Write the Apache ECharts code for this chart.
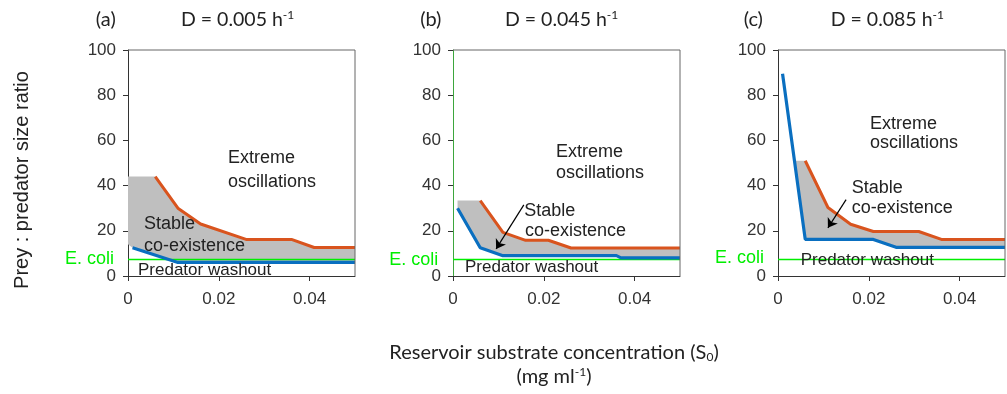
<!DOCTYPE html>
<html>
<head>
<meta charset="utf-8">
<script src="https://cdn.jsdelivr.net/npm/echarts@6/dist/echarts.min.js"></script>
<style>html,body{margin:0;padding:0;background:#fff}#c{width:1007px;height:394px}</style>
</head>
<body>
<div id="c"></div>
<script>
// ---- data ----
const panelLabels = ['(a)', '(b)', '(c)'];
const dilutionRates = ['0.005', '0.045', '0.085'];
const xMin = 0, xMax = 0.05, xStep = 0.02;
const yMin = 0, yMax = 100, yStep = 20;
const xTickValues = [0.02, 0.04];
const yTickValues = [20, 40, 60, 80];
const ecoliRatio = 7.3;

// blue: predator washout boundary
const blueA = [[0.001, 12.5], [0.011, 6], [0.05, 6]];
const blueB = [[0.001, 30], [0.006, 12.5], [0.011, 9], [0.036, 9], [0.037, 8], [0.05, 8]];
const blueC = [[0.001, 89.5], [0.006, 16.2], [0.021, 16.2], [0.026, 12.7], [0.05, 12.7]];

// orange: extreme oscillation boundary
const orangeA = [[0.006, 44], [0.011, 30], [0.016, 23], [0.026, 16.2], [0.036, 16.2], [0.041, 12.6], [0.05, 12.6]];
const orangeB = [[0.006, 33.4], [0.011, 19.3], [0.016, 15.8], [0.021, 15.8], [0.026, 12.4], [0.05, 12.4]];
const orangeC = [[0.006, 51], [0.011, 30.3], [0.016, 22.9], [0.021, 19.7], [0.031, 19.7], [0.036, 16.2], [0.05, 16.2]];

// grey stable co-existence region (upper edge, lower edge)
const greyTopA = [[0, 44], [0.006, 44]].concat(orangeA);
const greyBottomA = [[0, 14], [0.001, 12.5], [0.011, 6], [0.05, 6]];
const greyTopB = [[0.001, 33.4], [0.006, 33.4]].concat(orangeB);
const greyBottomB = blueB;
const greyTopC = [[0.0036, 51], [0.006, 51]].concat(orangeC);
const greyBottomC = [[0.0036, 51], [0.006, 16.2], [0.021, 16.2], [0.026, 12.7], [0.05, 12.7]];

// arrows (from, to) pointing into the stable region
const arrowB = [[0.0156, 31.5], [0.0095, 12]];
const arrowC = [[0.015, 33.8], [0.011, 21.3]];

// ---- layout ----
const blues = [blueA, blueB, blueC];
const oranges = [orangeA, orangeB, orangeC];
const greyTops = [greyTopA, greyTopB, greyTopC];
const greyBottoms = [greyBottomA, greyBottomB, greyBottomC];
const arrows = [null, arrowB, arrowC];
const gridLefts = [128, 453, 778];
const GW = 227, GT = 50, GH = 226;
const TICK_DX = 0.0011, TICK_DY = 2.2; // 5 px tick length in data units

const TXT = '#222';
const SANS = '"Liberation Sans", Arial, sans-serif';
const CAL = 'Lato, "Open Sans", sans-serif';
const FRAME = '#666666';

const grids = [], xAxes = [], yAxes = [], series = [];
for (let i = 0; i < 3; i++) {
  grids.push({ left: gridLefts[i], top: GT, width: GW, height: GH });
  xAxes.push({
    type: 'value', gridIndex: i, min: xMin, max: xMax, interval: xStep, position: 'bottom',
    axisLine: { show: true, onZero: false, lineStyle: { color: '#333', width: 1 } },
    axisTick: { show: true, length: 5, lineStyle: { color: '#333' } },
    axisLabel: { fontSize: 17, color: '#333', fontFamily: SANS, margin: 15, showMaxLabel: false,
      formatter: v => v === 0 ? '0' : v.toFixed(2) },
    splitLine: { show: false }
  });
  yAxes.push({
    type: 'value', gridIndex: i, min: yMin, max: yMax, interval: yStep, position: 'left',
    axisLine: { show: true, onZero: false, lineStyle: { color: i === 1 ? '#3da63d' : '#333', width: 1 } },
    axisTick: { show: true, length: 5, lineStyle: { color: '#333' } },
    axisLabel: { fontSize: 17, color: '#333', fontFamily: SANS, margin: 12 },
    splitLine: { show: false }
  });
  const bx = i, by = i;

  // box frame: top and right edges, with outward ticks
  const tickSegs = xTickValues.map(v => [{ coord: [v, yMax] }, { coord: [v, yMax + TICK_DY] }])
    .concat(yTickValues.map(v => [{ coord: [xMax, v] }, { coord: [xMax + TICK_DX, v] }]));
  series.push({
    type: 'line', xAxisIndex: bx, yAxisIndex: by, clip: false, silent: true, z: 6,
    data: [[xMin, yMax], [xMax, yMax], [xMax, yMin]],
    showSymbol: false, symbol: 'none',
    lineStyle: { color: FRAME, width: 1 },
    markLine: { silent: true, symbol: 'none', label: { show: false },
      lineStyle: { color: FRAME, width: 1, type: 'solid' }, data: tickSegs }
  });

  const poly = greyTops[i].concat(greyBottoms[i].slice().reverse());
  series.push({
    type: 'custom', xAxisIndex: bx, yAxisIndex: by, data: [[0, 0]], silent: true, z: 1,
    renderItem: (params, api) => {
      if (params.dataIndex !== 0) return null;
      return { type: 'polygon', shape: { points: poly.map(p => api.coord(p)) },
        style: { fill: '#bfbfbf', stroke: null } };
    }
  });
  series.push({
    type: 'line', xAxisIndex: bx, yAxisIndex: by, data: [[xMin, ecoliRatio], [xMax, ecoliRatio]],
    showSymbol: false, symbol: 'none', silent: true, z: 2,
    lineStyle: { color: '#00ee00', width: 1.5 }
  });
  series.push({
    type: 'line', xAxisIndex: bx, yAxisIndex: by, data: blues[i],
    showSymbol: false, symbol: 'none', silent: true, z: 3,
    lineStyle: { color: '#0a6fc0', width: 3.2 }
  });
  const orangeSeries = {
    type: 'line', xAxisIndex: bx, yAxisIndex: by, data: oranges[i],
    showSymbol: false, symbol: 'none', silent: true, z: 4,
    lineStyle: { color: '#d9541e', width: 3 }
  };
  if (arrows[i]) {
    orangeSeries.markLine = {
      silent: true, symbol: ['none', 'arrow'], symbolSize: 9, label: { show: false },
      lineStyle: { color: '#000', width: 1.2, type: 'solid' },
      data: [[{ coord: arrows[i][0] }, { coord: arrows[i][1] }]]
    };
  }
  series.push(orangeSeries);
}

function txt(x, y, text, opt) {
  return {
    type: 'text', x: x, y: y, z: 100, silent: true,
    style: Object.assign({ text: text, fill: TXT, font: '18px ' + SANS, align: 'left', verticalAlign: 'middle' }, opt || {})
  };
}
const supRich = { sup: { fontSize: 12, fontFamily: CAL, fill: '#222', padding: [0, 0, 9, 0] },
                  sub: { fontSize: 12, fontFamily: CAL, fill: '#222', padding: [9, 0, 0, 0] } };

const annot = [
  // panel a
  txt(228, 158, 'Extreme'), txt(228, 182, 'oscillations'),
  txt(144, 224, 'Stable'), txt(144, 246, 'co-existence'),
  txt(138, 270, 'Predator washout', { font: '17px ' + SANS }),
  txt(114, 259, 'E. coli', { fill: '#00ee00', align: 'right' }),
  // panel b
  txt(556, 152.5, 'Extreme'), txt(556, 173.3, 'oscillations'),
  txt(524.3, 210.7, 'Stable'), txt(525, 230.7, 'co-existence'),
  txt(465, 267.7, 'Predator washout', { font: '17px ' + SANS }),
  txt(438.3, 260, 'E. coli', { fill: '#00ee00', align: 'right' }),
  // panel c
  txt(870, 124, 'Extreme'), txt(870, 143.3, 'oscillations'),
  txt(851.7, 188.3, 'Stable'), txt(851.7, 208.3, 'co-existence'),
  txt(800.7, 260, 'Predator washout', { font: '17px ' + SANS }),
  txt(764, 258.3, 'E. coli', { fill: '#00ee00', align: 'right' })
];
const titleX = [[105.8, 181], [430.8, 505], [753.3, 830.7]];
for (let i = 0; i < 3; i++) {
  annot.push(txt(titleX[i][0], 20, panelLabels[i], { font: '20px ' + CAL, align: 'center' }));
  annot.push({ type: 'text', x: titleX[i][1], y: 20, z: 100, silent: true,
    style: { text: 'D = ' + dilutionRates[i] + ' h{sup|-1}', font: '19.5px ' + CAL, fill: '#222',
      align: 'left', verticalAlign: 'middle', rich: supRich } });
}
annot.push({ type: 'text', x: 22, y: 180, rotation: Math.PI / 2, z: 100, silent: true,
  style: { text: 'Prey : predator size ratio', font: '20px ' + SANS, fill: TXT, align: 'center', verticalAlign: 'middle' } });
annot.push({ type: 'text', x: 554, y: 353, z: 100, silent: true,
  style: { text: 'Reservoir substrate concentration (S{sub|0})', font: '20px ' + CAL, fill: '#222',
    align: 'center', verticalAlign: 'middle', rich: supRich } });
annot.push({ type: 'text', x: 554, y: 377, z: 100, silent: true,
  style: { text: '(mg ml{sup|-1})', font: '20px ' + CAL, fill: '#222',
    align: 'center', verticalAlign: 'middle', rich: supRich } });

const chart = echarts.init(document.getElementById('c'), null, { renderer: 'canvas' });
chart.setOption({
  animation: false,
  backgroundColor: '#fff',
  grid: grids, xAxis: xAxes, yAxis: yAxes, series: series,
  graphic: annot
});
</script>
</body>
</html>
